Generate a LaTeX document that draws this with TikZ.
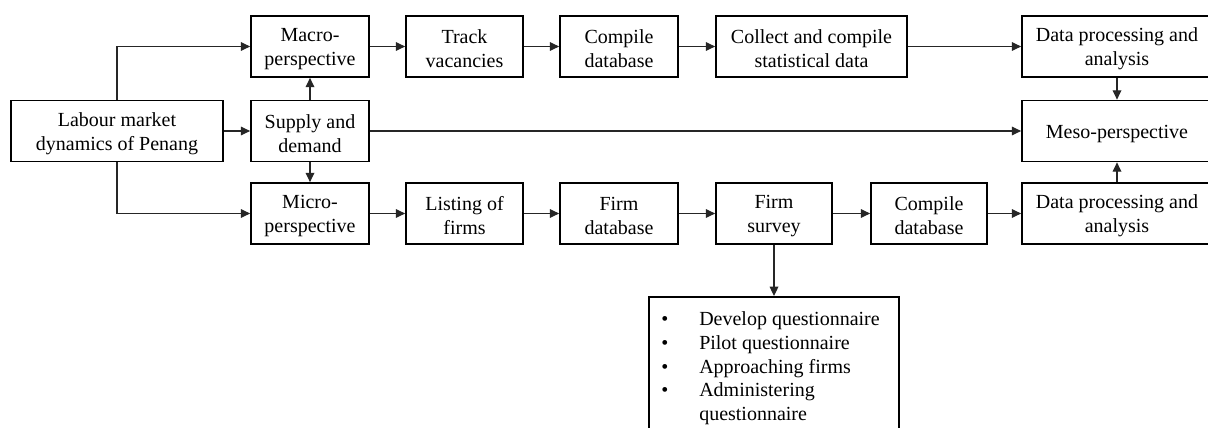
\documentclass[tikz,border=0pt]{standalone}
\usepackage{fontspec}
\setmainfont{Liberation Serif}
\usetikzlibrary{arrows.meta}

\begin{document}
\begin{tikzpicture}[x=0.75pt, y=-0.75pt,
  every node/.style={font=\fontsize{15}{18}\selectfont},
  box/.style={draw=black, line width=1.3pt, inner sep=0pt,
              minimum height=45.75pt},
  lbl/.style={align=center, inner sep=0pt, yshift=-1.9pt},
  link/.style={draw=black!85, line width=0.9pt,
               -{Triangle[length=7pt, width=6.5pt]}}]

  \clip (0,0) rectangle (1208,428);
  \fill[white] (0,0) rectangle (1208,428);

  % frames
  \node[box, minimum width=159pt] (lab) at (117,131) {};
  \node[box, minimum width=88.5pt] (mac) at (310,46.5) {};
  \node[box, minimum width=88.5pt] (sup) at (310,131) {};
  \node[box, minimum width=88.5pt] (mic) at (310,213.5) {};
  \node[box, minimum width=87.75pt] (trk) at (464.5,46.5) {};
  \node[box, minimum width=88.5pt] (cdb1) at (619,46.5) {};
  \node[box, minimum width=143.25pt] (col) at (811.5,46.5) {};
  \node[box, minimum width=142.5pt] (dpa1) at (1117,46.5) {};
  \node[box, minimum width=142.5pt] (meso) at (1117,131) {};
  \node[box, minimum width=87.75pt] (lst) at (464.5,213.5) {};
  \node[box, minimum width=88.5pt] (fdb) at (619,213.5) {};
  \node[box, minimum width=87pt] (fsv) at (774,213.5) {};
  \node[box, minimum width=87pt] (cdb2) at (929,213.5) {};
  \node[box, minimum width=142.5pt] (dpa2) at (1117,213.5) {};

  % labels
  \node[lbl] (labT) at (lab) {Labour market\\dynamics of Penang};
  \node[lbl] (macT) at (mac) {Macro-\\perspective};
  \node[lbl] (supT) at (sup) {Supply and\\demand};
  \node[lbl] (micT) at (mic) {Micro-\\perspective};
  \node[lbl] (trkT) at (trk) {Track\\vacancies};
  \node[lbl] (cdb1T) at (cdb1) {Compile\\database};
  \node[lbl] (colT) at (col) {Collect and compile\\statistical data};
  \node[lbl] (dpa1T) at (dpa1) {Data processing and\\analysis};
  \node[lbl] (mesoT) at (meso) {Meso-perspective};
  \node[lbl] (lstT) at (lst) {Listing of\\firms};
  \node[lbl] (fdbT) at (fdb) {Firm\\database};
  \node[lbl] (fsvT) at (fsv) {Firm\\survey};
  \node[lbl] (cdb2T) at (cdb2) {Compile\\database};
  \node[lbl] (dpa2T) at (dpa2) {Data processing and\\analysis};

  % survey steps
  \node[draw=black, line width=1.3pt, minimum width=187.5pt, minimum height=112.5pt,
        anchor=north] (steps) at (774,296) {};
  \node[anchor=base west, inner sep=0pt] (stepsT) at (661,325)
    {\begin{tabular}[t]{@{}p{28.5pt}@{}l@{}}
      \textbullet & Develop questionnaire\\
      \textbullet & Pilot questionnaire\\
      \textbullet & Approaching firms\\
      \textbullet & Administering\\
                  & questionnaire
     \end{tabular}};

  % connectors from the main topic
  \draw[link] (lab.north) |- (mac.west);
  \draw[link] (lab.south) |- (mic.west);
  \draw[link] (lab.east) -- (sup.west);
  \draw[link] (sup.north) -- (mac.south);
  \draw[link] (sup.south) -- (mic.north);
  \draw[link] (sup.east) -- (meso.west);

  % macro chain
  \draw[link] (mac) -- (trk);
  \draw[link] (trk) -- (cdb1);
  \draw[link] (cdb1) -- (col);
  \draw[link] (col) -- (dpa1);
  \draw[link] (dpa1) -- (meso);

  % micro chain
  \draw[link] (mic) -- (lst);
  \draw[link] (lst) -- (fdb);
  \draw[link] (fdb) -- (fsv);
  \draw[link] (fsv) -- (cdb2);
  \draw[link] (cdb2) -- (dpa2);
  \draw[link] (dpa2) -- (meso);
  \draw[link] (fsv.south) -- (steps.north);
\end{tikzpicture}
\end{document}
